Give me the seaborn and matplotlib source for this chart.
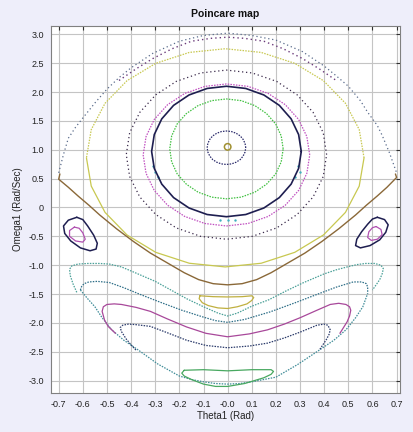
import matplotlib
matplotlib.use("Agg")
import matplotlib.pyplot as plt
import seaborn as sns

# ---------------- data ----------------
center_x = [0.0]
center_y = [1.05]

inner_x = [0.075, 0.072, 0.064, 0.052, 0.035, 0.016, -0.005, -0.026, -0.045, -0.062, -0.074, -0.082, -0.085,
           -0.082, -0.074, -0.062, -0.045, -0.026, -0.005, 0.016, 0.035, 0.052, 0.064, 0.072, 0.075]
inner_y = [1.035, 1.11, 1.18, 1.24, 1.286, 1.315, 1.325, 1.315, 1.286, 1.24, 1.18, 1.11, 1.035,
           0.96, 0.89, 0.83, 0.784, 0.755, 0.745, 0.755, 0.784, 0.83, 0.89, 0.96, 1.035]

green_x = [0.23, 0.222, 0.199, 0.161, 0.113, 0.056, -0.005, -0.066, -0.123, -0.171, -0.209, -0.232, -0.24,
           -0.232, -0.209, -0.171, -0.123, -0.066, -0.005, 0.056, 0.113, 0.161, 0.199, 0.222, 0.23]
green_y = [1.015, 1.239, 1.448, 1.627, 1.764, 1.851, 1.88, 1.851, 1.764, 1.627, 1.448, 1.239, 1.015,
           0.791, 0.582, 0.403, 0.266, 0.179, 0.15, 0.179, 0.266, 0.403, 0.582, 0.791, 1.015]

navy_x = [0.305, 0.294, 0.263, 0.214, 0.15, 0.075, -0.005, -0.085, -0.16, -0.224, -0.273, -0.304, -0.315,
          -0.304, -0.273, -0.224, -0.16, -0.085, -0.005, 0.075, 0.15, 0.214, 0.263, 0.294, 0.305]
navy_y = [0.97, 1.263, 1.535, 1.769, 1.949, 2.062, 2.10, 2.062, 1.949, 1.769, 1.535, 1.263, 0.97,
          0.677, 0.405, 0.171, -0.009, -0.122, -0.16, -0.122, -0.009, 0.171, 0.405, 0.677, 0.97]

purple_x = [0.34, 0.328, 0.294, 0.239, 0.168, 0.084, -0.005, -0.094, -0.178, -0.249, -0.304, -0.338, -0.35,
            -0.338, -0.304, -0.249, -0.178, -0.094, -0.005, 0.084, 0.168, 0.239, 0.294, 0.328, 0.34]
purple_y = [0.91, 1.229, 1.525, 1.78, 1.975, 2.098, 2.14, 2.098, 1.975, 1.78, 1.525, 1.229, 0.91,
            0.591, 0.295, 0.04, -0.155, -0.278, -0.32, -0.278, -0.155, 0.04, 0.295, 0.591, 0.91]

dots_x = [0.41, 0.396, 0.354, 0.288, 0.203, 0.102, -0.005, -0.112, -0.213, -0.298, -0.364, -0.406, -0.42,
          -0.406, -0.364, -0.298, -0.213, -0.112, -0.005, 0.102, 0.203, 0.288, 0.354, 0.396, 0.41]
dots_y = [0.915, 1.294, 1.648, 1.951, 2.184, 2.33, 2.38, 2.33, 2.184, 1.951, 1.648, 1.294, 0.915,
          0.536, 0.182, -0.121, -0.354, -0.5, -0.55, -0.5, -0.354, -0.121, 0.182, 0.536, 0.915]

yellow_x = [0.565, 0.545, 0.488, 0.397, 0.278, 0.139, -0.01, -0.159, -0.298, -0.417, -0.508, -0.565, -0.585,
            -0.565, -0.508, -0.417, -0.298, -0.159, -0.01, 0.139, 0.278, 0.397, 0.488, 0.545, 0.565]
yellow_y = [0.86, 1.35, 1.805, 2.196, 2.497, 2.686, 2.75, 2.686, 2.497, 2.196, 1.805, 1.35, 0.86,
            0.37, -0.085, -0.476, -0.777, -0.966, -1.03, -0.966, -0.777, -0.476, -0.085, 0.37, 0.86]

brown_x = [-0.695, -0.70, -0.66, -0.62, -0.575, -0.53, -0.46, -0.39, -0.32, -0.25, -0.18, -0.12, -0.06, 0.0,
           0.06, 0.12, 0.18, 0.25, 0.32, 0.39, 0.46, 0.53, 0.575, 0.62, 0.66, 0.70, 0.695]
brown_y = [0.58, 0.49, 0.35, 0.20, 0.04, -0.13, -0.37, -0.59, -0.79, -0.96, -1.13, -1.25, -1.32, -1.34,
           -1.32, -1.25, -1.13, -0.96, -0.79, -0.59, -0.37, -0.13, 0.04, 0.20, 0.35, 0.52, 0.58]

outer_top_x = [-0.70, -0.68, -0.66, -0.63, -0.60, -0.55, -0.50, -0.45, -0.40, -0.31, -0.20, -0.10, 0.0,
               0.10, 0.20, 0.31, 0.40, 0.45, 0.50, 0.55, 0.58, 0.62, 0.64, 0.67, 0.70]
outer_top_y = [0.60, 0.92, 1.20, 1.39, 1.55, 1.81, 2.05, 2.25, 2.42, 2.67, 2.88, 2.98, 3.02,
               2.98, 2.90, 2.70, 2.45, 2.28, 2.10, 1.85, 1.65, 1.42, 1.25, 0.95, 0.60]

band_top_x = [-0.45, -0.38, -0.31, -0.23, -0.15, -0.07, 0.0, 0.07, 0.15, 0.23, 0.31, 0.38, 0.45]
band_top_y = [2.20, 2.40, 2.58, 2.75, 2.88, 2.93, 2.95, 2.93, 2.88, 2.75, 2.58, 2.40, 2.20]

isl_l_out_x = [-0.625, -0.66, -0.68, -0.675, -0.65, -0.61, -0.57, -0.545, -0.54, -0.555, -0.58, -0.60, -0.625]
isl_l_out_y = [-0.17, -0.22, -0.32, -0.45, -0.58, -0.70, -0.75, -0.72, -0.62, -0.48, -0.32, -0.21, -0.17]
isl_l_in_x = [-0.635, -0.655, -0.655, -0.63, -0.60, -0.59, -0.60, -0.615, -0.635]
isl_l_in_y = [-0.34, -0.40, -0.50, -0.58, -0.60, -0.55, -0.44, -0.36, -0.34]
isl_r_out_x = [0.62, 0.65, 0.665, 0.655, 0.63, 0.59, 0.55, 0.53, 0.535, 0.555, 0.58, 0.60, 0.62]
isl_r_out_y = [-0.17, -0.21, -0.30, -0.43, -0.56, -0.66, -0.70, -0.66, -0.55, -0.42, -0.29, -0.20, -0.17]
isl_r_in_x = [0.615, 0.635, 0.64, 0.62, 0.595, 0.58, 0.585, 0.60, 0.615]
isl_r_in_y = [-0.33, -0.38, -0.47, -0.55, -0.57, -0.52, -0.42, -0.35, -0.33]

lobe1_x = [-0.625, -0.64, -0.652, -0.655, -0.645, -0.62, -0.58, -0.53, -0.49, -0.44, -0.40, -0.35, -0.30,
           -0.235, -0.17, -0.10, -0.04, 0.0, 0.04, 0.10, 0.17, 0.24, 0.31, 0.355, 0.40, 0.45, 0.495, 0.535,
           0.57, 0.61, 0.635, 0.645, 0.64, 0.63, 0.60]
lobe1_y = [-1.47, -1.33, -1.18, -1.07, -1.01, -0.98, -0.97, -0.97, -0.98, -1.03, -1.10, -1.19, -1.28,
           -1.43, -1.58, -1.72, -1.83, -1.88, -1.83, -1.71, -1.60, -1.45, -1.31, -1.23, -1.15, -1.08, -1.03,
           -0.99, -0.97, -0.97, -1.00, -1.06, -1.15, -1.25, -1.43]

lobe2_x = [-0.61, -0.605, -0.595, -0.575, -0.54, -0.49, -0.43, -0.36, -0.28, -0.19, -0.10, -0.05, 0.0,
           0.07, 0.175, 0.28, 0.38, 0.45, 0.52, 0.555, 0.575, 0.58, 0.58]
lobe2_y = [-1.43, -1.37, -1.32, -1.29, -1.28, -1.30, -1.39, -1.51, -1.64, -1.78, -1.90, -1.96, -1.99,
           -1.94, -1.81, -1.65, -1.49, -1.38, -1.29, -1.29, -1.32, -1.38, -1.49]

outer_u_x = [-0.61, -0.58, -0.55, -0.52, -0.48, -0.43, -0.37, -0.29, -0.20, -0.15, -0.10, -0.05, 0.0,
             0.05, 0.10, 0.15, 0.20, 0.29, 0.38, 0.44, 0.49, 0.53, 0.56, 0.58]
outer_u_y = [-1.43, -1.58, -1.72, -1.91, -2.12, -2.30, -2.47, -2.71, -2.92, -2.98, -3.02, -3.05, -3.06,
             -3.05, -3.02, -2.98, -2.94, -2.72, -2.47, -2.30, -2.12, -1.91, -1.72, -1.49]

lobe_p_x = [-0.465, -0.495, -0.51, -0.52, -0.515, -0.50, -0.47, -0.44, -0.38, -0.32, -0.25, -0.17, -0.09, 0.0,
            0.09, 0.165, 0.235, 0.30, 0.37, 0.425, 0.46, 0.49, 0.505, 0.51, 0.505, 0.495, 0.465]
lobe_p_y = [-2.18, -2.06, -1.95, -1.80, -1.72, -1.68, -1.67, -1.68, -1.73, -1.80, -1.93, -2.07, -2.18, -2.24,
            -2.19, -2.12, -2.02, -1.91, -1.78, -1.68, -1.66, -1.68, -1.72, -1.78, -1.88, -1.98, -2.18]

lobe_n_x = [-0.38, -0.40, -0.42, -0.44, -0.445, -0.435, -0.41, -0.38, -0.32, -0.25, -0.17, -0.09, 0.0,
            0.09, 0.165, 0.235, 0.30, 0.37, 0.40, 0.415, 0.425, 0.42, 0.41, 0.38]
lobe_n_y = [-2.47, -2.38, -2.28, -2.15, -2.08, -2.04, -2.02, -2.03, -2.06, -2.17, -2.30, -2.39, -2.43,
            -2.40, -2.35, -2.26, -2.16, -2.04, -2.02, -2.04, -2.12, -2.20, -2.28, -2.47]

lobe_y_x = [-0.115, -0.06, 0.0, 0.06, 0.10, 0.108, 0.10, 0.08, 0.04, 0.0, -0.04, -0.08, -0.105, -0.118, -0.115]
lobe_y_y = [-1.53, -1.545, -1.55, -1.545, -1.53, -1.56, -1.61, -1.67, -1.72, -1.75, -1.74, -1.70, -1.65, -1.58, -1.53]

lobe_g_x = [-0.18, -0.10, 0.0, 0.10, 0.18, 0.19, 0.18, 0.15, 0.11, 0.07, 0.0, -0.05, -0.10, -0.15, -0.18, -0.19, -0.18]
lobe_g_y = [-2.82, -2.81, -2.83, -2.81, -2.81, -2.84, -2.89, -2.95, -3.00, -3.05, -3.10, -3.10, -3.06, -2.98, -2.92, -2.87, -2.82]

cyan_x = [-0.31, -0.30, -0.29, 0.29, 0.30, 0.28, -0.03, 0.0, 0.03]
cyan_y = [0.72, 0.62, 0.52, 0.72, 0.62, 0.52, -0.21, -0.22, -0.21]

x_ticks = [-0.7, -0.6, -0.5, -0.4, -0.3, -0.2, -0.1, 0.0, 0.1, 0.2, 0.3, 0.4, 0.5, 0.6, 0.7]
x_labels = ["-0.7", "-0.6", "-0.5", "-0.4", "-0.3", "-0.2", "-0.1", "-0.0", "0.1", "0.2", "0.3", "0.4", "0.5", "0.6", "0.7"]
y_ticks = [3.0, 2.5, 2.0, 1.5, 1.0, 0.5, 0.0, -0.5, -1.0, -1.5, -2.0, -2.5, -3.0]
y_labels = ["3.0", "2.5", "2.0", "1.5", "1.0", "0.5", "0", "-0.5", "-1.0", "-1.5", "-2.0", "-2.5", "-3.0"]

# ---------------- figure ----------------
sns.set_theme(style="white")
plt.rcParams["font.family"] = ["Liberation Sans", "DejaVu Sans"]

fig = plt.figure(figsize=(4.14, 4.32), dpi=100, facecolor="#eeeefa")
ax = fig.add_axes([0.1225, 0.0896, 0.8437, 0.8509])
ax.set_facecolor("white")

DOT = (0, (1.2, 1.0))
SPARSE = (0, (1.0, 2.2))

def curve(xs, ys, color, lw=0.9, ls="-", alpha=1.0):
    sns.lineplot(x=xs, y=ys, sort=False, estimator=None, color=color,
                 lw=lw, linestyle=ls, alpha=alpha, ax=ax)

curve(outer_top_x, outer_top_y, "#5a6c8c", lw=0.9, ls=SPARSE)
curve(band_top_x, band_top_y, "#6a3a7a", lw=1.0, ls=SPARSE)
curve(yellow_x[:13], yellow_y[:13], "#c8c850", lw=0.9, ls=DOT)
curve(yellow_x[12:], yellow_y[12:], "#c8c850", lw=0.9)
curve(dots_x, dots_y, "#3a2a4a", lw=0.9, ls=SPARSE)
curve(purple_x, purple_y, "#c050c0", lw=0.9, ls=DOT)
curve(navy_x, navy_y, "#1e1e50", lw=1.2)
curve(green_x, green_y, "#40c040", lw=0.9, ls=DOT)
curve(inner_x, inner_y, "#2a2a6a", lw=0.9, ls=DOT)
curve(brown_x, brown_y, "#8a6838", lw=1.0)
curve(isl_l_out_x, isl_l_out_y, "#1e1e50", lw=1.1)
curve(isl_l_in_x, isl_l_in_y, "#b050b0", lw=0.9)
curve(isl_r_out_x, isl_r_out_y, "#1e1e50", lw=1.1)
curve(isl_r_in_x, isl_r_in_y, "#b050b0", lw=0.9)
curve(lobe1_x, lobe1_y, "#4aa098", lw=0.9, ls=DOT)
curve(lobe2_x, lobe2_y, "#2f6f88", lw=0.9, ls=DOT)
curve(outer_u_x, outer_u_y, "#3f8c98", lw=0.9, ls=DOT)
curve(lobe_p_x, lobe_p_y, "#a8489a", lw=0.9)
curve(lobe_n_x, lobe_n_y, "#2a3a6a", lw=0.9, ls=DOT)
curve(lobe_y_x, lobe_y_y, "#c0b040", lw=0.9)
curve(lobe_g_x, lobe_g_y, "#48a860", lw=0.9)
sns.scatterplot(x=cyan_x, y=cyan_y, color="#40b0c0", s=3, linewidth=0, ax=ax)
sns.scatterplot(x=center_x, y=center_y, s=22, facecolor="none",
                edgecolor="#a09030", linewidth=1.1, ax=ax)

ax.set_xlim(-0.733, 0.714)
ax.set_ylim(-3.219, 3.149)
ax.set_xticks(x_ticks)
ax.set_xticklabels(x_labels)
ax.set_yticks(y_ticks)
ax.set_yticklabels(y_labels)
ax.grid(True, color="#c4c4c4", lw=0.8)
ax.set_axisbelow(True)
for s in ax.spines.values():
    s.set_color("#808080")
    s.set_linewidth(0.8)
ax.tick_params(direction="in", length=3, width=0.8, color="#303030",
               top=True, right=True, labelsize=6.5, pad=5, labelcolor="#222222")

ax.set_title("Poincare map", fontsize=7.5, fontweight="bold", pad=6, color="#111111")
ax.set_xlabel("Theta1 (Rad)", fontsize=7, labelpad=1, color="#222222")
ax.set_ylabel("Omega1 (Rad/Sec)", fontsize=7, labelpad=4, color="#222222")

fig.savefig("out.png", dpi=100, facecolor=fig.get_facecolor())
